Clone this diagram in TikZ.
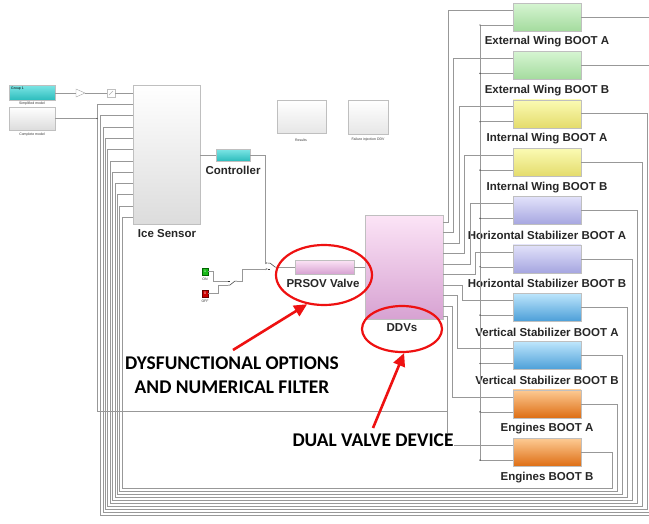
\documentclass[tikz,border=0pt]{standalone}
\usepackage{fontspec}
\setmainfont{Liberation Sans}
\newfontfamily\annfont{Carlito}
\usetikzlibrary{calc,arrows.meta,shapes.geometric}
\definecolor{wirec}{HTML}{989898}
\definecolor{gT}{HTML}{D6F5D2}\definecolor{gB}{HTML}{A4DB9E}
\definecolor{yT}{HTML}{FBFBB4}\definecolor{yB}{HTML}{E4DC6C}
\definecolor{lT}{HTML}{E2E2FA}\definecolor{lB}{HTML}{A6A6E0}
\definecolor{bT}{HTML}{BEE6FC}\definecolor{bB}{HTML}{4C9FD8}
\definecolor{oT}{HTML}{FDCB94}\definecolor{oB}{HTML}{DE6E14}
\definecolor{pT}{HTML}{FCE4F6}\definecolor{pB}{HTML}{D7A2D2}
\definecolor{cT}{HTML}{7EE6E6}\definecolor{cB}{HTML}{2CBCBC}
\definecolor{sT}{HTML}{FFFFFF}\definecolor{sB}{HTML}{DCDCDC}
\definecolor{annred}{HTML}{EE1111}
\begin{document}
\begin{tikzpicture}[x=1pt,y=-1pt,
  wire/.style={draw=wirec,line width=0.5pt},
  blk/.style={draw=gray!50,line width=0.4pt,inner sep=0pt,outer sep=0pt,anchor=north west},
  lbl/.style={font=\bfseries\fontsize{11.5}{13}\selectfont,inner sep=0pt,text=black!85},
  tinytxt/.style={font=\fontsize{3.5}{4}\selectfont,inner sep=0pt,text=black!80},
  redell/.style={draw=annred,line width=2.2pt,ellipse,inner sep=0pt},
  redarr/.style={draw=annred,line width=2.6pt,-{Triangle[length=13pt,width=12pt]}},
  ann/.style={font=\annfont\bfseries\fontsize{19.4}{24}\selectfont,align=center,fill=white,inner sep=1pt},
  tip/.style={-{Stealth[length=2.5pt,width=2.2pt]}}]
\useasboundingbox (0,0) rectangle (649,523);
\clip (0,0) rectangle (649,523);

% ---------------- left blocks
\node[blk,top color=cT,bottom color=cB,minimum width=46pt,minimum height=15pt] (sm) at (9,85) {};
\node[tinytxt,anchor=north west,text=black] (smg) at (11,87) {Group 1};
\node[tinytxt] (sml) at (32,104) {Simplified model};
\node[blk,top color=sT,bottom color=sB,minimum width=46pt,minimum height=23pt] (cm) at (9,107) {};
\node[tinytxt] (cml) at (32,135) {Complete model};

\node[blk,fill=white,minimum width=8pt,minimum height=8pt] (qz) at (107,89) {};
\draw[gray!60,line width=0.4pt] (qz.south west) ++(2,-2) -- ($(qz.north east)+(-2,2)$);

% ---------------- Ice sensor, controller
\node[blk,top color=sT,bottom color=sB,minimum width=67pt,minimum height=139pt] (ice) at (133,85) {};
\node[lbl] (icel) at (167,234) {Ice Sensor};
\node[blk,top color=cT,bottom color=cB,minimum width=34pt,minimum height=12pt] (ctrl) at (216,149) {};
\node[lbl] (ctrll) at (233,170) {Controller};

% ---------------- Results, Failure injection
\node[blk,top color=sT,bottom color=sB!70,minimum width=49pt,minimum height=33pt] (res) at (277,100) {};
\node[tinytxt] (resl) at (301,140) {Results};
\node[blk,top color=sT,bottom color=sB!70,minimum width=40pt,minimum height=34pt] (fi) at (348,100) {};
\node[tinytxt] (fil) at (368,140) {Failure injection DDV};

% ---------------- ON / OFF
\node[blk,fill=green!70!black!90,draw=green!40!black,minimum width=6pt,minimum height=7pt] (on) at (202,268) {};
\node[tinytxt,text=white] at (on.center) {1};
\node[tinytxt] (onl) at (205,279) {ON};
\node[blk,fill=red!80!black,draw=red!40!black,minimum width=6pt,minimum height=7pt] (off) at (202,290) {};
\node[tinytxt,text=white] at (off.center) {0};
\node[tinytxt] (offl) at (205,301) {OFF};

% ---------------- PRSOV, DDV
\node[blk,top color=pT,bottom color=pB,minimum width=59pt,minimum height=14pt] (prsov) at (295,260) {};
\node[lbl] (prsovl) at (323,283) {PRSOV Valve};
\node[blk,top color=pT,bottom color=pB,minimum width=78pt,minimum height=104pt] (ddv) at (365,215) {};
\node[lbl] (ddvl) at (402,328) {DDVs};

% ---------------- Boots
\foreach \i/\nm/\tc/\bc in {0/External Wing BOOT A/gT/gB,1/External Wing BOOT B/gT/gB,
  2/Internal Wing BOOT A/yT/yB,3/Internal Wing BOOT B/yT/yB,
  4/Horizontal Stabilizer BOOT A/lT/lB,5/Horizontal Stabilizer BOOT B/lT/lB,
  6/Vertical Stabilizer BOOT A/bT/bB,7/Vertical Stabilizer BOOT B/bT/bB,
  8/Engines BOOT A/oT/oB,9/Engines BOOT B/oT/oB}{
  \node[blk,top color=\tc,bottom color=\bc,minimum width=68pt,minimum height=28pt] (b\i) at (513,{3+48.35*\i}) {};
  \node[lbl] (bl\i) at ($(b\i.south)+(0,11)$) {\nm};
  \coordinate (do\i) at ($(ddv.north east)+(0,{7+10.5*\i})$);
  \coordinate (bi\i) at ($(b\i.north west)+(0,7)$);
  \coordinate (bj\i) at ($(b\i.north west)+(0,22)$);
  \coordinate (ii\i) at ($(ice.north west)+(0,{8+11.3*(2+\i)})$);
}
\coordinate (iiA) at ($(ice.north west)+(0,8)$);
\coordinate (iiB) at ($(ice.north west)+(0,19.3)$);

% ---------------- wires: DDV -> boots
\foreach \i in {0,...,5}{
  \draw[wire] (do\i) -| ($(bi\i)+({-65+5.5*\i},0)$) -- (bi\i);
}
\foreach \i in {6,...,9}{
  \draw[wire] (do\i) -| ($(bi\i)+({-66+5*(9-\i)},0)$) -- (bi\i);
}
% bus feeding second inputs
\draw[wire] ($(bj0)+(-33,0)$) -- ($(bj9)+(-33,0)$);
\foreach \i in {0,...,9}{
  \draw[wire] ($(bj\i)+(-33,0)$) -- (bj\i);
  \fill[gray!40!black] ($(bj\i)+(-33,0)$) circle (0.7);
}
% feedback loops boots -> ice sensor
\foreach \i in {0,...,9}{
  \pgfmathsetmacro\xr{612+5*(9-\i)}
  \pgfmathsetmacro\yb{488+3*(9-\i)}
  \pgfmathsetmacro\xl{122-2.4*(9-\i)}
  \draw[wire] (b\i.east) -| (\xr,\yb) -- (\xl,\yb) |- (ii\i);
}

% ---------------- left wires
\draw[wire] (sm.east |- iiA) -- (76,93);
\draw[gray!70,line width=0.4pt,fill=white] (76,89) -- (85,93) -- (76,97) -- cycle;
\draw[wire] (85,93) -- (qz.west);
\draw[wire] (qz.east) -- (iiA);
\draw[wire] (cm.east) -| (97,411) -- (447,411);
\draw[wire] (iiB) -| (97,118.5);
\fill[gray!40!black] (97,118.5) circle (0.7);

% ---------------- ice -> controller -> switches -> PRSOV -> DDV
\draw[wire] (ice.east |- ctrl.west) -- (ctrl.west);
\coordinate (sw1a) at (228,281);
\coordinate (sw1b) at (228,285);
\coordinate (sw1o) at (237,281);
\coordinate (sw2a) at (268,263);
\coordinate (sw2b) at (268,269);
\coordinate (sw2o) at (277,267);
\draw[wire] (on.east) -- ++(5,0) |- (sw1a);
\draw[wire] (off.east) -- ++(10,0) |- (sw1b);
\draw[gray!40!black,line width=0.5pt] (sw1b) -- ++(2,0) -- ($(sw1o)+(-2,0)$) -- (sw1o);
\draw[gray!40!black,line width=0.5pt] (sw1a) -- ++(2,0);
\draw[wire,tip] (sw1o) -- (242,281) |- (sw2b);
\draw[wire,tip] (ctrl.east) -| (265,263) -- (sw2a);
\draw[gray!40!black,line width=0.5pt] (sw2a) -- ++(2,0) -- ($(sw2o)+(-2,0)$) -- (sw2o);
\draw[gray!40!black,line width=0.5pt] (sw2b) -- ++(2,0);
\draw[wire] (sw2o) -- (prsov.west |- sw2o);
\draw[wire] (prsov.east) -- (ddv.west |- prsov.east);

% ---------------- annotations
\node[redell,minimum width=96pt,minimum height=60pt] (ell1) at (324,275) {};
\node[redell,minimum width=80pt,minimum height=46pt] (ell2) at (402,329) {};
\node[ann] (ann1) at (232,375) {DYSFUNCTIONAL OPTIONS\\AND NUMERICAL FILTER};
\node[ann] (ann2) at (373,440) {DUAL VALVE DEVICE};
\coordinate (t1) at (233,350);
\coordinate (t2) at (373,428);
\draw[redarr] (t1) -- (ell1.240);
\draw[redarr] (t2) -- (ell2.275);
\end{tikzpicture}
\end{document}
